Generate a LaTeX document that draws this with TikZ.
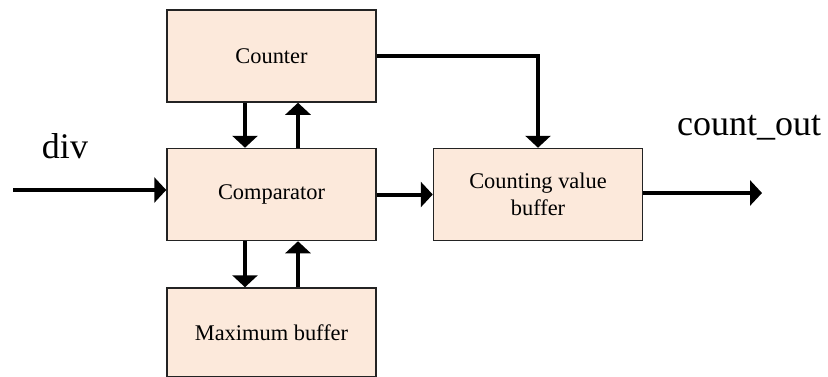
\documentclass[tikz,border=0pt]{standalone}
\usepackage{fontspec}
\setmainfont{Liberation Serif}
\usepackage{tikz}
\usetikzlibrary{arrows.meta, positioning}
\definecolor{blockFill}{RGB}{252,233,219}
\definecolor{blockEdge}{RGB}{35,35,35}
\tikzset{
    block/.style={rectangle, draw=blockEdge, fill=blockFill, line width=0.75pt,
                  align=center, minimum width=104.5pt, minimum height=46pt, inner sep=0pt,
                  font=\fontsize{11.2}{13.4}\selectfont},
    flow/.style={-{Triangle[length=6pt, width=12.5pt]}, line width=2pt},
    sig/.style={font=\fontsize{18}{20}\selectfont, inner sep=0pt}
}
\begin{document}
\begin{tikzpicture}[x=0.5pt, y=0.5pt]
    \useasboundingbox (0,0) rectangle (828,-376);
    % Blocks
    \node[block] (counter) at (271.5,-56) {Counter};
    \node[block, below=22.5pt of counter] (comp) {Comparator};
    \node[block, below=23pt of comp, minimum height=44.5pt] (maxbuf) {Maximum buffer};
    \node[block, right=28pt of comp] (cvb) {Counting value\\buffer};

    % Ports
    \coordinate (divin) at (13,-190);
    \coordinate (cntout) at (762,-193);
    \node[sig] (divlbl) at (65,-146) {div};
    \node[sig] (outlbl) at (749,-128) {count\_out};

    % Flows
    \draw[flow] (divin) -- (divin -| comp.west);
    \draw[flow] ([xshift=-13.25pt]counter.south) -- ([xshift=-13.25pt]comp.north);
    \draw[flow] ([xshift=13.25pt]comp.north) -- ([xshift=13.25pt]counter.south);
    \draw[flow] ([xshift=-13.25pt]comp.south) -- ([xshift=-13.25pt]maxbuf.north);
    \draw[flow] ([xshift=13.25pt]maxbuf.north) -- ([xshift=13.25pt]comp.south);
    \draw[flow] (counter.east) -| (cvb.north);
    \draw[flow] (comp.east) -- (comp.east -| cvb.west);
    \draw[flow] (cvb.east |- cntout) -- (cntout);
\end{tikzpicture}
\end{document}
